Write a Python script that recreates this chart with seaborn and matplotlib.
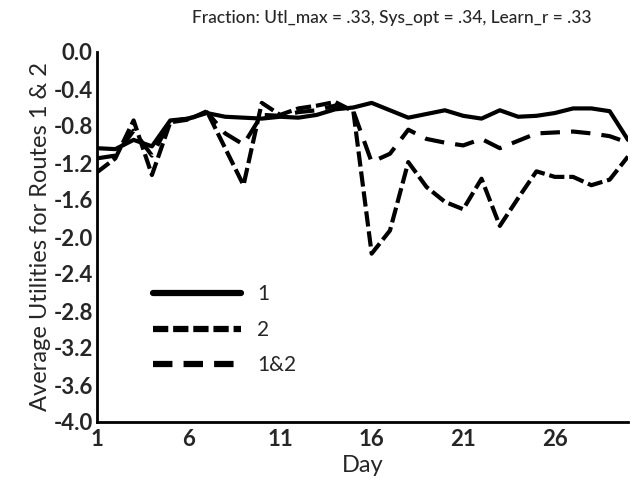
import numpy as np
import pandas as pd
import matplotlib
matplotlib.use('Agg')
import matplotlib.pyplot as plt
from matplotlib.ticker import MultipleLocator, FixedLocator, FormatStrFormatter
import seaborn as sns

# Data
days = list(range(1, 31))
route_1 = [-1.04, -1.05, -0.95, -1.02, -0.74, -0.72, -0.66, -0.70, -0.71, -0.72,
           -0.70, -0.71, -0.68, -0.62, -0.60, -0.55, -0.63, -0.71, -0.67, -0.63,
           -0.69, -0.72, -0.63, -0.70, -0.69, -0.66, -0.61, -0.61, -0.64, -0.95]
route_2 = [-1.30, -1.15, -0.74, -1.33, -0.76, -0.73, -0.64, -1.04, -1.44, -0.55,
           -0.68, -0.61, -0.58, -0.54, -0.64, -2.18, -1.93, -1.19, -1.46, -1.62,
           -1.70, -1.37, -1.88, -1.58, -1.29, -1.35, -1.35, -1.44, -1.38, -1.13]
route_12 = [-1.15, -1.12, -0.85, -1.12, -0.75, -0.72, -0.65, -0.88, -1.00, -0.68,
            -0.69, -0.65, -0.63, -0.58, -0.64, -1.19, -1.10, -0.84, -0.94, -0.98,
            -1.01, -0.94, -1.04, -0.96, -0.88, -0.87, -0.86, -0.88, -0.91, -0.98]
series_labels = ['1', '2', '1&2']
x_ticks = [1, 6, 11, 16, 21, 26]
title = 'Fraction: Utl_max = .33, Sys_opt = .34, Learn_r = .33'

sns.set_theme(style='white')
plt.rcParams['font.family'] = ['Lato', 'DejaVu Sans']
plt.rcParams['axes.unicode_minus'] = False
plt.rcParams['lines.scale_dashes'] = False

fig = plt.figure(figsize=(6.3, 4.82), dpi=100)
ax = fig.add_axes([97 / 630, 60 / 482, 531 / 630, 370 / 482])

styles = ['-', (0, (11, 3.5)), (0, (14, 8))]
for vals, lab, ls in zip([route_1, route_2, route_12], series_labels, styles):
    sns.lineplot(x=days, y=vals, ax=ax, color='black', lw=3,
                 linestyle=ls, label=lab)

ax.set_xlim(1, 30)
ax.set_ylim(-4.0, 0.0)
ax.xaxis.set_major_locator(FixedLocator(x_ticks))
ax.xaxis.set_minor_locator(FixedLocator([3.5, 8.5, 13.5, 18.5, 23.5, 28.5]))
ax.yaxis.set_major_locator(MultipleLocator(0.4))
ax.yaxis.set_minor_locator(MultipleLocator(0.2))
ax.yaxis.set_major_formatter(FormatStrFormatter('%.1f'))

for s in ['top', 'right']:
    ax.spines[s].set_visible(False)
for s in ['left', 'bottom']:
    ax.spines[s].set_color('black')
    ax.spines[s].set_linewidth(2)

ax.tick_params(which='both', direction='in', color='black', width=1.8)
ax.tick_params(axis='x', which='major', length=6, labelsize=16, pad=5)
ax.tick_params(axis='x', which='minor', length=4)
ax.tick_params(axis='y', which='both', length=5, labelsize=16, pad=3)
for lbl in ax.get_xticklabels() + ax.get_yticklabels():
    lbl.set_fontweight('bold')

ax.set_xlabel('Day', fontsize=17, labelpad=4)
ax.set_ylabel('Average Utilities for Routes 1 & 2', fontsize=17, labelpad=2)
fig.text(0.622, 0.962, title, ha='center', va='center', fontsize=12.5,
         fontweight='medium')

leg = ax.legend(loc='upper left', bbox_to_anchor=(0.09, 0.395), frameon=False,
                fontsize=15, handlelength=4.2, handletextpad=0.8,
                labelspacing=0.75, borderaxespad=0)
for line in leg.get_lines():
    line.set_linewidth(4.5)

fig.savefig('out.png', dpi=100)
